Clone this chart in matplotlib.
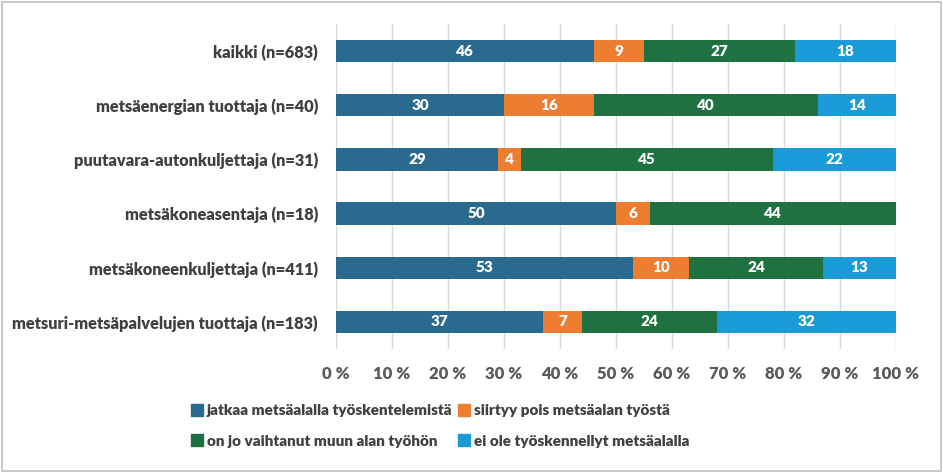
import matplotlib.pyplot as plt
from matplotlib.patches import Rectangle
from matplotlib.lines import Line2D

categories = ["kaikki (n=683)", "metsäenergian tuottaja (n=40)", "puutavara-autonkuljettaja (n=31)",
              "metsäkoneasentaja (n=18)", "metsäkoneenkuljettaja (n=411)",
              "metsuri-metsäpalvelujen tuottaja (n=183)"]
series_names = ["jatkaa metsäalalla työskentelemistä", "siirtyy pois metsäalan työstä",
                "on jo vaihtanut muun alan työhön", "ei ole työskennellyt metsäalalla"]
jatkaa = [46, 30, 29, 50, 53, 37]
siirtyy = [9, 16, 4, 6, 10, 7]
vaihtanut = [27, 40, 45, 44, 24, 24]
ei_ole = [18, 14, 22, 0, 13, 32]
xticks = [0, 10, 20, 30, 40, 50, 60, 70, 80, 90, 100]
colors = ["#2A6A8F", "#ED7D31", "#1F7142", "#1A9AD6"]

plt.rcParams['font.family'] = ['Lato', 'DejaVu Sans']
W = 'heavy'
fig = plt.figure(figsize=(9.43, 4.73), dpi=100)
ax = fig.add_axes([336/943, 1-349/473, 560/943, 325/473])

series = [jatkaa, siirtyy, vaihtanut, ei_ole]
y = list(range(len(categories)))
left = [0]*len(categories)
handles = []
for vals, c, name in zip(series, colors, series_names):
    bars = ax.barh(y, vals, left=left, height=0.41, color=c, zorder=3)
    for i, (b, v) in enumerate(zip(bars, vals)):
        if v > 0:
            ax.text(left[i] + v/2, i, str(v), ha='center', va='center', color='white',
                    fontsize=11, fontweight=W, zorder=4)
    left = [l + v for l, v in zip(left, vals)]
    handles.append(Line2D([], [], marker='s', linestyle='none', markersize=8,
                          markerfacecolor=c, markeredgecolor=c, label=name))

ax.set_xlim(0, 100)
ax.set_ylim(len(categories)-0.5, -0.5)
ax.set_yticks(y)
ax.set_yticklabels(categories, fontsize=11.75, fontweight=W, color='#404040')
ax.set_xticks(xticks)
ax.set_xticklabels([f"{t} %" for t in xticks], fontsize=12, fontweight=W, color='#595959')
ax.tick_params(length=0)
ax.tick_params(axis='y', pad=13)
ax.tick_params(axis='x', pad=12)
ax.grid(axis='x', color='#D9D9D9', linewidth=1, zorder=0)
for s in ax.spines.values():
    s.set_visible(False)

order = [0, 2, 1, 3]
fig.legend([handles[i] for i in order], [series_names[i] for i in order], ncol=2,
           loc='center', bbox_to_anchor=(0.466, 1-426/473), frameon=False,
           prop={'size': 11, 'weight': W}, labelcolor='#404040',
           handletextpad=0.15, columnspacing=0.3, labelspacing=1.15, handlelength=1.0)

fig.patches.append(Rectangle((0.002, 0.004), 0.996, 0.992, transform=fig.transFigure,
                             fill=False, edgecolor='#BFBFBF', linewidth=1.2))
fig.savefig('out.png', dpi=100)
